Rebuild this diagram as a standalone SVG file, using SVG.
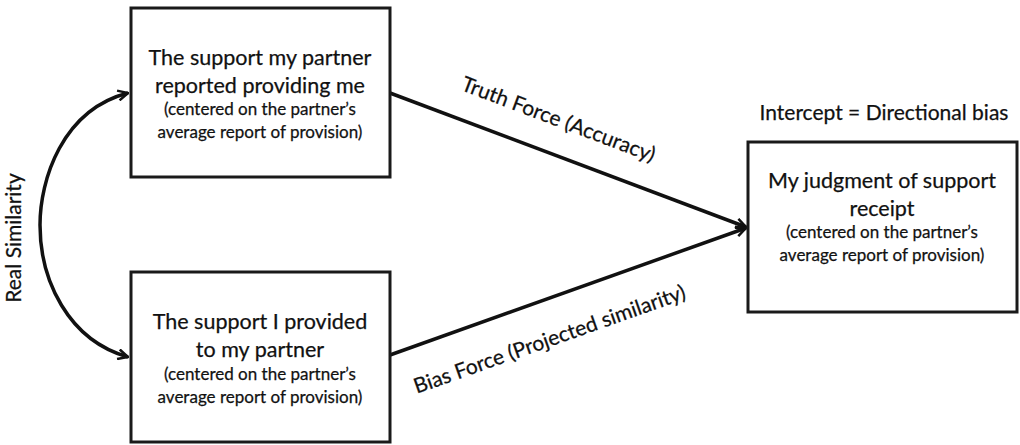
<svg xmlns="http://www.w3.org/2000/svg" width="1020" height="445" viewBox="0 0 1020 445">
<defs>
<marker id="arr" viewBox="0 0 12 12" refX="11" refY="6" markerWidth="12" markerHeight="12" markerUnits="userSpaceOnUse" orient="auto-start-reverse">
<path d="M1,1 L11,6 L1,11" fill="none" stroke="#111" stroke-width="2.5"/>
</marker>
<style>
.box{fill:#fff;stroke:#1a1a1a;stroke-width:3}
.t{font-family:Lato,"Open Sans",sans-serif;fill:#111;text-anchor:middle;stroke:#111;stroke-width:0.25}
.big{font-size:21.5px}
.small{font-size:17px}
.lbl{font-size:21px}
.edge{fill:none;stroke:#111;stroke-width:3.5}
</style>
</defs>
<rect width="1020" height="445" fill="#fff"/>
<g id="connectors">
<path class="edge" d="M390,93 L746,227" marker-end="url(#arr)"/>
<path class="edge" d="M390,355 L746,228" marker-end="url(#arr)"/>
<path class="edge" d="M128,93 C62,110 40,180 40,225 C40,280 68,340 128,357" marker-start="url(#arr)" marker-end="url(#arr)"/>
<text class="t lbl" transform="translate(556,126) rotate(20.7)">Truth Force (Accuracy)</text>
<text class="t lbl" transform="translate(552,346) rotate(-19.5)">Bias Force (Projected similarity)</text>
<text class="t lbl" transform="translate(21,238) rotate(-90)">Real Similarity</text>
</g>
<g id="node1">
<rect class="box" x="131" y="8" width="259" height="169"/>
<text class="t big" x="260" y="65">The support my partner</text>
<text class="t big" x="260" y="93">reported providing me</text>
<text class="t small" x="260" y="115">(centered on the partner’s</text>
<text class="t small" x="260" y="138">average report of provision)</text>
</g>
<g id="node2">
<rect class="box" x="131" y="272" width="259" height="170"/>
<text class="t big" x="260" y="329">The support I provided</text>
<text class="t big" x="260" y="357">to my partner</text>
<text class="t small" x="260" y="380">(centered on the partner’s</text>
<text class="t small" x="260" y="403">average report of provision)</text>
</g>
<g id="node3">
<rect class="box" x="748" y="142" width="269" height="170"/>
<text class="t big" x="882" y="188">My judgment of support</text>
<text class="t big" x="882" y="216">receipt</text>
<text class="t small" x="882" y="238">(centered on the partner’s</text>
<text class="t small" x="882" y="261">average report of provision)</text>
</g>
<g id="intercept">
<text class="t lbl" x="884" y="120">Intercept = Directional bias</text>
</g>
</svg>
